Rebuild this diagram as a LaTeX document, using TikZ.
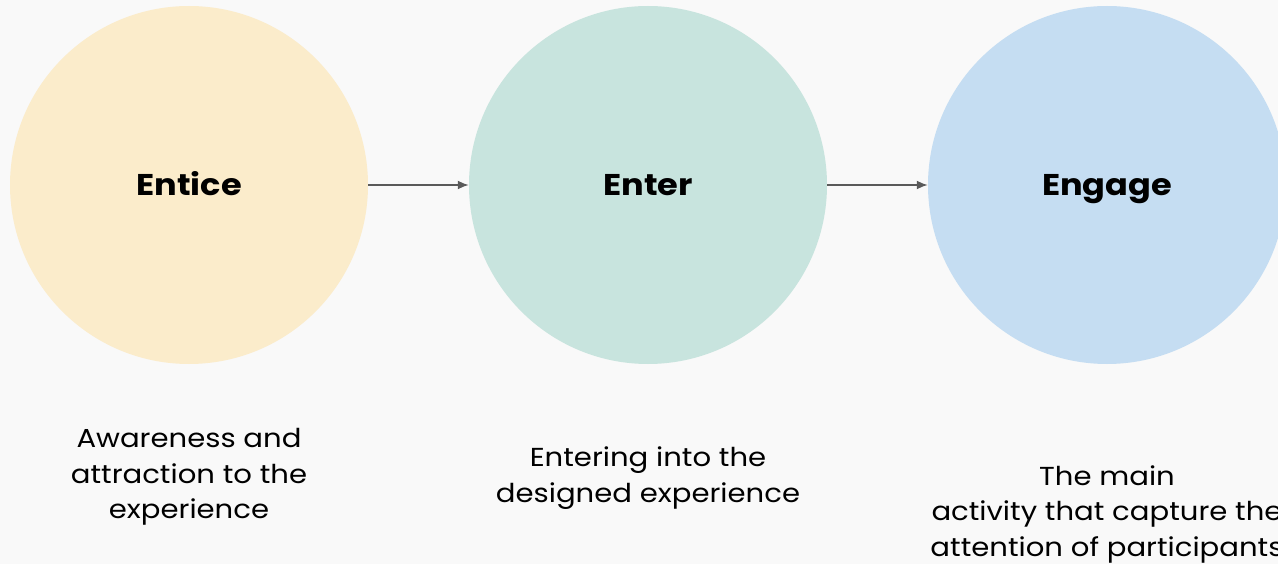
\documentclass[tikz,border=0pt]{standalone}
\usepackage{fontspec}
\setmainfont{Poppins}[FakeStretch=1.12]
\usetikzlibrary{arrows.meta}

\definecolor{bgcol}{HTML}{F9F9F9}
\definecolor{enticecol}{HTML}{FBECCB}
\definecolor{entercol}{HTML}{C8E4DE}
\definecolor{engagecol}{HTML}{C5DDF2}
\definecolor{arrowcol}{HTML}{5A5A5A}

\tikzset{
  stage/.style={circle, minimum size=358pt, inner sep=0pt,
    text height=21pt, text depth=0pt,
    font=\fontsize{30}{34}\selectfont\bfseries},
  caption/.style={align=center, font=\fontsize{26}{35.5}\selectfont},
  flow/.style={draw=arrowcol, line width=1.8pt, -{Latex[length=11pt,width=9pt]}}
}

\begin{document}
\begin{tikzpicture}[x=1pt, y=-1pt]
    \useasboundingbox (0,0) rectangle (1278,564);
    \clip (0,0) rectangle (1278,564);
    \fill[bgcol] (0,0) rectangle (1278,564);

    % stages
    \node[stage, fill=enticecol] (entice) at (189,185) {Entice};
    \node[stage, fill=entercol] (enter) at (648,185) {Enter};
    \node[stage, fill=engagecol] (engage) at (1107,185) {Engage};

    \draw[flow] (entice.east) -- (enter.west);
    \draw[flow] (enter.east) -- (engage.west);

    % descriptions
    \node[caption] (enticetext) at (189,477) {Awareness and\\attraction to the\\experience};
    \node[caption] (entertext) at (648,478) {Entering into the\\designed experience};
    \node[caption] (engagetext) at (1107,514) {The main\\activity that capture the\\attention of participants};
\end{tikzpicture}
\end{document}
